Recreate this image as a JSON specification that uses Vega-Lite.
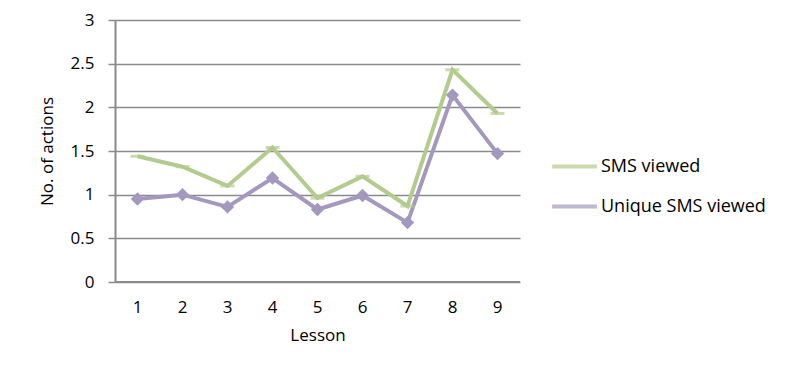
{
  "$schema": "https://vega.github.io/schema/vega-lite/v6.json",
  "autosize": "none",
  "width": 405,
  "height": 262,
  "padding": {"left": 115, "top": 20, "right": 280, "bottom": 91},
  "background": "white",
  "config": {
    "font": "Open Sans",
    "view": {"stroke": null},
    "axis": {"labelFont": "Open Sans", "titleFont": "Open Sans", "labelColor": "#000", "titleColor": "#000", "labelFontSize": 17, "titleFontSize": 17, "titleFontWeight": "normal"}
  },
  "data": {
    "values": [
      {"lesson": "1", "series": "SMS viewed", "value": 1.44},
      {"lesson": "2", "series": "SMS viewed", "value": 1.32},
      {"lesson": "3", "series": "SMS viewed", "value": 1.10},
      {"lesson": "4", "series": "SMS viewed", "value": 1.54},
      {"lesson": "5", "series": "SMS viewed", "value": 0.96},
      {"lesson": "6", "series": "SMS viewed", "value": 1.21},
      {"lesson": "7", "series": "SMS viewed", "value": 0.87},
      {"lesson": "8", "series": "SMS viewed", "value": 2.43},
      {"lesson": "9", "series": "SMS viewed", "value": 1.93},
      {"lesson": "1", "series": "Unique SMS viewed", "value": 0.95},
      {"lesson": "2", "series": "Unique SMS viewed", "value": 1.0},
      {"lesson": "3", "series": "Unique SMS viewed", "value": 0.86},
      {"lesson": "4", "series": "Unique SMS viewed", "value": 1.19},
      {"lesson": "5", "series": "Unique SMS viewed", "value": 0.83},
      {"lesson": "6", "series": "Unique SMS viewed", "value": 0.99},
      {"lesson": "7", "series": "Unique SMS viewed", "value": 0.68},
      {"lesson": "8", "series": "Unique SMS viewed", "value": 2.14},
      {"lesson": "9", "series": "Unique SMS viewed", "value": 1.47}
    ]
  },
  "encoding": {
    "x": {
      "field": "lesson", "type": "ordinal",
      "scale": {"type": "band", "paddingInner": 0, "paddingOuter": 0},
      "axis": {"labelAngle": 0, "ticks": false, "domain": false, "grid": false, "labelPadding": 17, "title": "Lesson", "titlePadding": 12}
    },
    "y": {
      "field": "value", "type": "quantitative",
      "scale": {"domain": [0, 3], "nice": false, "zero": true},
      "axis": {"values": [0, 0.5, 1, 1.5, 2, 2.5, 3], "format": "~g", "grid": true, "gridColor": "#8a8a8a", "gridWidth": 1.5, "gridOpacity": 1, "domainColor": "#8a8a8a", "domainWidth": 2, "tickColor": "#8a8a8a", "tickSize": 7, "tickWidth": 1.5, "labelPadding": 14, "title": "No. of actions", "titlePadding": 14}
    },
    "color": {
      "field": "series", "type": "nominal",
      "scale": {"domain": ["SMS viewed", "Unique SMS viewed"], "range": ["#B3CC8D", "#A598BF"]},
      "legend": {"orient": "none", "legendX": 435, "legendY": 122, "title": null, "symbolType": "stroke", "symbolSize": 2000, "symbolStrokeWidth": 4, "labelFontSize": 18, "labelLimit": 400, "labelFont": "Open Sans", "labelColor": "#000", "rowPadding": 6, "labelOffset": 2}
    }
  },
  "layer": [
    {"mark": {"type": "rule", "color": "#8a8a8a", "strokeWidth": 2}, "encoding": {"y": {"datum": 0}, "x": null, "color": null}},
    {"mark": {"type": "line", "strokeWidth": 4}},
    {"transform": [{"filter": "datum.series == 'SMS viewed'"}], "mark": {"type": "tick", "thickness": 3, "size": 14}},
    {"transform": [{"filter": "datum.series == 'Unique SMS viewed'"}], "mark": {"type": "point", "shape": "diamond", "filled": true, "size": 180, "opacity": 1}}
  ]
}
